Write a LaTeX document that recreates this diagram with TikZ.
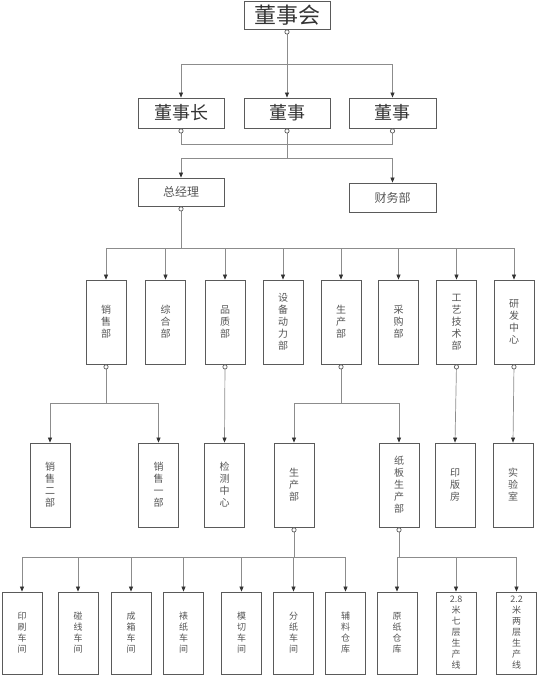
\documentclass[tikz,border=0pt]{standalone}
\usepackage{fontspec}
\setmainfont{Noto Sans CJK SC}
\usetikzlibrary{arrows.meta}
\definecolor{boxline}{HTML}{5A5A5A}
\definecolor{conline}{HTML}{8C8C8C}
\definecolor{txt}{HTML}{555555}
\tikzset{
  topbox/.style={draw=boxline,line width=0.9pt,minimum width=86pt,minimum height=30pt,inner sep=0pt,text=black!80,font=\fontsize{18}{18}\selectfont},
  midbox/.style={draw=boxline,line width=0.8pt,minimum width=86pt,minimum height=28pt,inner sep=0pt,text=txt,font=\fontsize{12}{12}\selectfont},
  colbox/.style={draw=boxline,line width=0.8pt,minimum width=40pt,minimum height=84pt,inner sep=0pt,text=txt,align=center,font=\fontsize{10}{12}\selectfont},
  lowbox/.style={colbox,minimum height=82pt,font=\fontsize{9}{11}\selectfont},
  link/.style={draw=conline,line width=0.7pt},
  src/.style={link,{Circle[open,length=5pt,color=black!65,fill=white]}-},
  dst/.style={link,-{Triangle[length=5pt,width=4pt,color=black!80]}},
  srcdst/.style={link,{Circle[open,length=5pt,color=black!65,fill=white]}-{Triangle[length=5pt,width=4pt,color=black!80]}}
}
\begin{document}
\begin{tikzpicture}[x=1pt,y=-1pt]
\useasboundingbox (0,0) rectangle (537,675);

\node[topbox,minimum height=28pt,font=\fontsize{22}{22}\selectfont] (dsh) at (287,15) {董事会};

\node[topbox] (dsz) at (181,113) {董事长};
\node[topbox] (ds1) at (287,113) {董事};
\node[topbox,minimum width=87pt] (ds2) at (392.5,113) {董事};

\node[midbox] (zjl) at (181,192) {总经理};
\node[midbox,minimum width=87pt,minimum height=29pt] (cwb) at (392.5,197.5) {财务部};

\node[colbox] (xs) at (106,322) {销\\售\\部};
\node[colbox] (zh) at (165.5,322) {综\\合\\部};
\node[colbox] (pz) at (225,322) {品\\质\\部};
\node[colbox] (sb) at (283,322) {设\\备\\动\\力\\部};
\node[colbox] (sc) at (341,322) {生\\产\\部};
\node[colbox] (cg) at (398.5,322) {采\\购\\部};
\node[colbox] (gy) at (456.5,322) {工\\艺\\技\\术\\部};
\node[colbox] (yf) at (514,322) {研\\发\\中\\心};

\node[colbox] (xs2) at (50,485) {销\\售\\二\\部};
\node[colbox] (xs1) at (158.5,485) {销\\售\\一\\部};
\node[colbox] (jc) at (224.5,485) {检\\测\\中\\心};
\node[colbox] (scb) at (294,485) {生\\产\\部};
\node[colbox] (zb) at (399,485) {纸\\板\\生\\产\\部};
\node[colbox] (yb) at (455,485) {印\\版\\房};
\node[colbox] (sy) at (513,485) {实\\验\\室};

\node[lowbox] (ys) at (22,633) {印\\刷\\车\\间};
\node[lowbox] (px) at (78,633) {碰\\线\\车\\间};
\node[lowbox] (cx) at (131,633) {成\\箱\\车\\间};
\node[lowbox] (bz) at (183.5,633) {裱\\纸\\车\\间};
\node[lowbox] (mq) at (241.5,633) {模\\切\\车\\间};
\node[lowbox] (fz) at (293.5,633) {分\\纸\\车\\间};
\node[lowbox] (fl) at (345.5,633) {辅\\料\\仓\\库};
\node[lowbox] (yz) at (397,633) {原\\纸\\仓\\库};
\node[lowbox] (qc) at (456,633) {2.8\\米\\七\\层\\生\\产\\线};
\node[lowbox] (lc) at (516.5,633) {2.2\\米\\两\\层\\生\\产\\线};

\coordinate (j1) at (287,64);
\coordinate (j2) at (287,144);
\coordinate (j3) at (287,158);
\coordinate (j4) at (181,248);
\coordinate (j5) at (106,403);
\coordinate (j6) at (341,403);
\coordinate (j7) at (294,557);
\coordinate (j8) at (399,557);

\draw[src] (dsh.south) -- (j1);
\draw[dst] (j1) -| (dsz.north);
\draw[dst] (j1) -- (ds1.north);
\draw[dst] (j1) -| (ds2.north);

\draw[src] (dsz.south) |- (j2);
\draw[src] (ds1.south) -- (j2);
\draw[src] (ds2.south) |- (j2);
\draw[link] (j2) -- (j3);
\draw[dst] (j3) -| (zjl.north);
\draw[dst] (j3) -| (cwb.north);

\draw[src] (zjl.south) -- (j4);
\draw[dst] (j4) -| (xs.north);
\draw[dst] (j4) -| (zh.north);
\draw[dst] (j4) -| (pz.north);
\draw[dst] (j4) -| (sb.north);
\draw[dst] (j4) -| (sc.north);
\draw[dst] (j4) -| (cg.north);
\draw[dst] (j4) -| (gy.north);
\draw[dst] (j4) -| (yf.north);

\draw[src] (xs.south) -- (j5);
\draw[dst] (j5) -| (xs2.north);
\draw[dst] (j5) -| (xs1.north);
\draw[srcdst] (pz.south) -- (jc.north);
\draw[src] (sc.south) -- (j6);
\draw[dst] (j6) -| (scb.north);
\draw[dst] (j6) -| (zb.north);
\draw[srcdst] (gy.south) -- (yb.north);
\draw[srcdst] (yf.south) -- (sy.north);

\draw[src] (scb.south) -- (j7);
\draw[dst] (j7) -| (ys.north);
\draw[dst] (j7) -| (px.north);
\draw[dst] (j7) -| (cx.north);
\draw[dst] (j7) -| (bz.north);
\draw[dst] (j7) -| (mq.north);
\draw[dst] (j7) -| (fz.north);
\draw[dst] (j7) -| (fl.north);

\draw[src] (zb.south) -- (j8);
\draw[dst] (j8) -| (yz.north);
\draw[dst] (j8) -| (qc.north);
\draw[dst] (j8) -| (lc.north);
\end{tikzpicture}
\end{document}
